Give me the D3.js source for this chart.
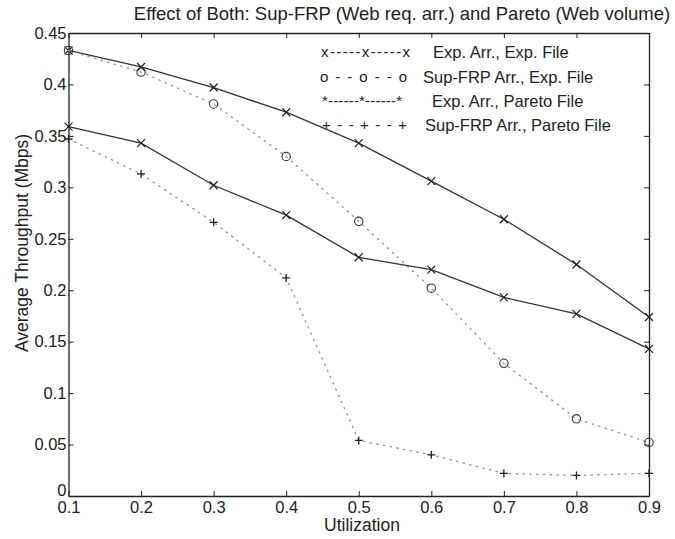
<!DOCTYPE html>
<html>
<head>
<meta charset="utf-8">
<script src="https://cdn.jsdelivr.net/npm/d3@7"></script>
<style>
  body { margin: 0; background: #fff; }
  svg text { font-family: "Liberation Sans", Arial, sans-serif; fill: #222; }
</style>
</head>
<body>
<svg id="chart"></svg>
<script>
// utilization levels
const utilization = [0.1, 0.2, 0.3, 0.4, 0.5, 0.6, 0.7, 0.8, 0.9];

// average throughput (Mbps)
const expArrExpFile = [0.433, 0.417, 0.397, 0.373, 0.343, 0.306, 0.269, 0.225, 0.174];
const supArrExpFile = [0.433, 0.412, 0.381, 0.330, 0.267, 0.202, 0.129, 0.075, 0.052];
const expArrParetoFile = [0.359, 0.343, 0.302, 0.273, 0.232, 0.220, 0.193, 0.177, 0.143];
const supArrParetoFile = [0.347, 0.313, 0.266, 0.212, 0.054, 0.040, 0.022, 0.020, 0.022];

const yTicks = [0, 0.05, 0.1, 0.15, 0.2, 0.25, 0.3, 0.35, 0.4, 0.45];
const xTicks = [0.1, 0.2, 0.3, 0.4, 0.5, 0.6, 0.7, 0.8, 0.9];

const legendSamples = ["x-----x-----x", "o - - o - - o", "*------*------*", "+ - - + - - +"];
const legendLabels = ["Exp. Arr., Exp. File", "Sup-FRP Arr., Exp. File", "Exp. Arr., Pareto File", "Sup-FRP Arr., Pareto File"];

const series = [
    {values: expArrExpFile, dotted: false, marker: "x"},
    {values: supArrExpFile, dotted: true, marker: "o"},
    {values: expArrParetoFile, dotted: false, marker: "x"},
    {values: supArrParetoFile, dotted: true, marker: "+"}
];

const width = 675, height = 539;
const plotLeft = 68.5, plotRight = 649, plotTop = 33, plotBottom = 496;

let svg = d3.select("#chart").attr("width", width).attr("height", height);

let x = d3.scaleLinear().domain([0.1, 0.9]).range([plotLeft, plotRight]);
let y = d3.scaleLinear().domain([0, 0.45]).range([plotBottom, plotTop]);

// axes box with inward ticks on all four sides
svg.append("g")
    .attr("transform", "translate(0," + plotBottom + ")")
    .call(d3.axisBottom(x).tickValues(xTicks).tickSizeInner(-5).tickSizeOuter(0).tickPadding(5)
        .tickFormat(d3.format(".1f")))
    .call(g => g.selectAll("text").style("font-size", "16.5px"));

svg.append("g")
    .attr("transform", "translate(0," + plotTop + ")")
    .call(d3.axisTop(x).tickValues(xTicks).tickSizeInner(-5).tickSizeOuter(0).tickFormat(""));

let yAxis = svg.append("g")
    .attr("transform", "translate(" + plotLeft + ",0)")
    .call(d3.axisLeft(y).tickValues(yTicks).tickSizeInner(-5).tickSizeOuter(0).tickPadding(2)
        .tickFormat(d => d === 0 ? "0" : String(+d.toFixed(2))))
    .call(g => g.selectAll("text").style("font-size", "16.5px"));

// the "0" sits just above the corner, over the first x label
yAxis.selectAll(".tick text").filter(d => d === 0).attr("dy", "-0.05em");

svg.append("g")
    .attr("transform", "translate(" + plotRight + ",0)")
    .call(d3.axisRight(y).tickValues(yTicks).tickSizeInner(-5).tickSizeOuter(0).tickFormat(""));

svg.selectAll(".domain").attr("stroke", "#222").attr("stroke-width", 1.3);
svg.selectAll(".tick line").attr("stroke", "#222");

let line = d3.line()
    .x((d, i) => x(utilization[i]))
    .y(d => y(d));

let plot = svg.append("g").attr("class", "series");

series.forEach(function (s) {
    plot.append("path")
        .datum(s.values)
        .attr("d", line)
        .attr("fill", "none")
        .attr("stroke", s.dotted ? "#999" : "#333")
        .attr("stroke-width", s.dotted ? 1.4 : 1.3)
        .attr("stroke-dasharray", s.dotted ? "1.3,5.5" : null)
        .attr("stroke-linecap", "round");

    let marks = plot.append("g")
        .selectAll("g")
        .data(s.values)
        .enter().append("g")
        .attr("transform", function (d, i) {
            return "translate(" + x(utilization[i]) + "," + y(d) + ")";
        });

    if (s.marker === "x") {
        marks.append("path").attr("d", "M-4,-4L4,4M-4,4L4,-4")
            .attr("stroke", "#222").attr("stroke-width", 1.2);
    } else if (s.marker === "o") {
        marks.append("circle").attr("r", 4.2)
            .attr("fill", "none").attr("stroke", "#333").attr("stroke-width", 1.1);
    } else {
        marks.append("path").attr("d", "M-4,0L4,0M0,-4L0,4")
            .attr("stroke", "#222").attr("stroke-width", 1.3);
    }
});

// legend (samples are typed strings in the original)
let legend = svg.append("g").attr("class", "legend");
let legendY = [52, 77, 101, 125];
let sampleX = [321, 320, 322, 322];
let sampleW = [89, 87, 80, 85];
let labelX = [433, 423, 432, 425];

legend.selectAll("text.sample")
    .data(legendSamples)
    .enter().append("text")
    .attr("class", "sample")
    .attr("x", (d, i) => sampleX[i])
    .attr("y", (d, i) => legendY[i] + 5)
    .attr("textLength", (d, i) => sampleW[i])
    .attr("lengthAdjust", "spacing")
    .style("font-size", "15px")
    .text(d => d);

legend.selectAll("text.label")
    .data(legendLabels)
    .enter().append("text")
    .attr("class", "label")
    .attr("x", (d, i) => labelX[i])
    .attr("y", (d, i) => legendY[i] + 6)
    .style("font-size", "16.5px")
    .text(d => d);

// title and axis labels
svg.append("text")
    .attr("x", 402)
    .attr("y", 20)
    .attr("text-anchor", "middle")
    .style("font-size", "18.5px")
    .text("Effect of Both: Sup-FRP (Web req. arr.) and Pareto (Web volume)");

svg.append("text")
    .attr("x", 362)
    .attr("y", 531)
    .attr("text-anchor", "middle")
    .style("font-size", "17.5px")
    .text("Utilization");

svg.append("text")
    .attr("transform", "translate(28,243) rotate(-90)")
    .attr("text-anchor", "middle")
    .style("font-size", "17.5px")
    .text("Average Throughput (Mbps)");
</script>
</body>
</html>
